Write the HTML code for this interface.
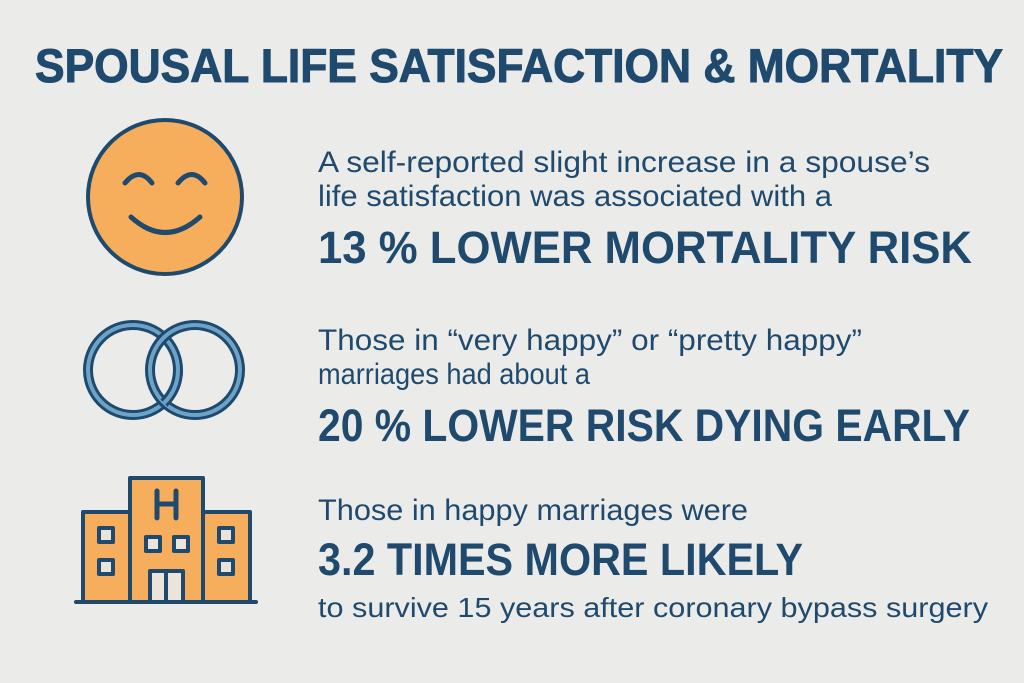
<!DOCTYPE html>
<html><head><meta charset="utf-8"><style>
html,body{margin:0;padding:0;background:#ebecea;}
svg{display:block}
text{font-family:"Liberation Sans",sans-serif;fill:#1f4a6e}
.b{font-weight:bold}
</style></head><body>
<svg width="1024" height="683" viewBox="0 0 1024 683">
<rect width="1024" height="683" fill="#ebecea"/>
<text x="35" y="82" class="b" font-size="47" textLength="968" lengthAdjust="spacingAndGlyphs" stroke="#1f4a6e" stroke-width="1">SPOUSAL LIFE SATISFACTION &amp; MORTALITY</text>
<circle cx="165" cy="197" r="77" fill="#f6ae5c" stroke="#1f4a6e" stroke-width="4"/>
<g fill="none" stroke="#1f4a6e" stroke-width="5" stroke-linecap="round">
<path d="M125 183 Q139 166 152 183"/><path d="M178 183 Q192 166 205 183"/>
<path d="M131 217 Q165 248 200 217"/>
</g>
<g fill="none">
<circle cx="133" cy="370" r="45" stroke="#1f4a6e" stroke-width="10"/>
<circle cx="133" cy="370" r="45" stroke="#6ea3c8" stroke-width="4"/>
<circle cx="195" cy="370" r="45" stroke="#1f4a6e" stroke-width="10"/>
<circle cx="195" cy="370" r="45" stroke="#6ea3c8" stroke-width="4"/>
<path d="M178 370 A45 45 0 0 1 164 403" stroke="#1f4a6e" stroke-width="10"/>
<path d="M178 370 A45 45 0 0 1 164 403" stroke="#6ea3c8" stroke-width="4"/>
</g>
<g stroke="#1f4a6e" stroke-width="4" stroke-linejoin="round">
<rect x="83" y="512" width="167" height="90" fill="#f6ae5c"/>
<rect x="130" y="478" width="73" height="124" fill="#f6ae5c"/>
<g fill="#ebe4da">
<rect x="99" y="528" width="14" height="14"/><rect x="99" y="560" width="14" height="14"/>
<rect x="219" y="528" width="14" height="14"/><rect x="219" y="560" width="14" height="14"/>
<rect x="146" y="537" width="14" height="14"/><rect x="174" y="537" width="14" height="14"/>
<rect x="150" y="571" width="33" height="31"/>
</g>
<line x1="166" y1="571" x2="166" y2="602"/>
<path d="M157 491 V518 M176 491 V518 M157 504 H176" fill="none" stroke-linecap="round" stroke-width="5"/>
<line x1="76" y1="602" x2="256" y2="602" stroke-linecap="round"/>
</g>
<text x="318" y="172" font-size="30" textLength="612" lengthAdjust="spacingAndGlyphs">A self-reported slight increase in a spouse’s</text>
<text x="318" y="206" font-size="30" textLength="514" lengthAdjust="spacingAndGlyphs">life satisfaction was associated with a</text>
<text x="318" y="263" class="b" font-size="45" textLength="654" lengthAdjust="spacingAndGlyphs">13 % LOWER MORTALITY RISK</text>
<text x="318" y="350" font-size="30" textLength="544" lengthAdjust="spacingAndGlyphs">Those in “very happy” or “pretty happy”</text>
<text x="318" y="384" font-size="30" textLength="272" lengthAdjust="spacingAndGlyphs">marriages had about a</text>
<text x="318" y="441" class="b" font-size="45" textLength="652" lengthAdjust="spacingAndGlyphs">20 % LOWER RISK DYING EARLY</text>
<text x="318" y="520" font-size="30" textLength="430" lengthAdjust="spacingAndGlyphs">Those in happy marriages were</text>
<text x="318" y="575" class="b" font-size="45" textLength="485" lengthAdjust="spacingAndGlyphs">3.2 TIMES MORE LIKELY</text>
<text x="318" y="617" font-size="28" textLength="670" lengthAdjust="spacingAndGlyphs">to survive 15 years after coronary bypass surgery</text>
</svg>
</body></html>
